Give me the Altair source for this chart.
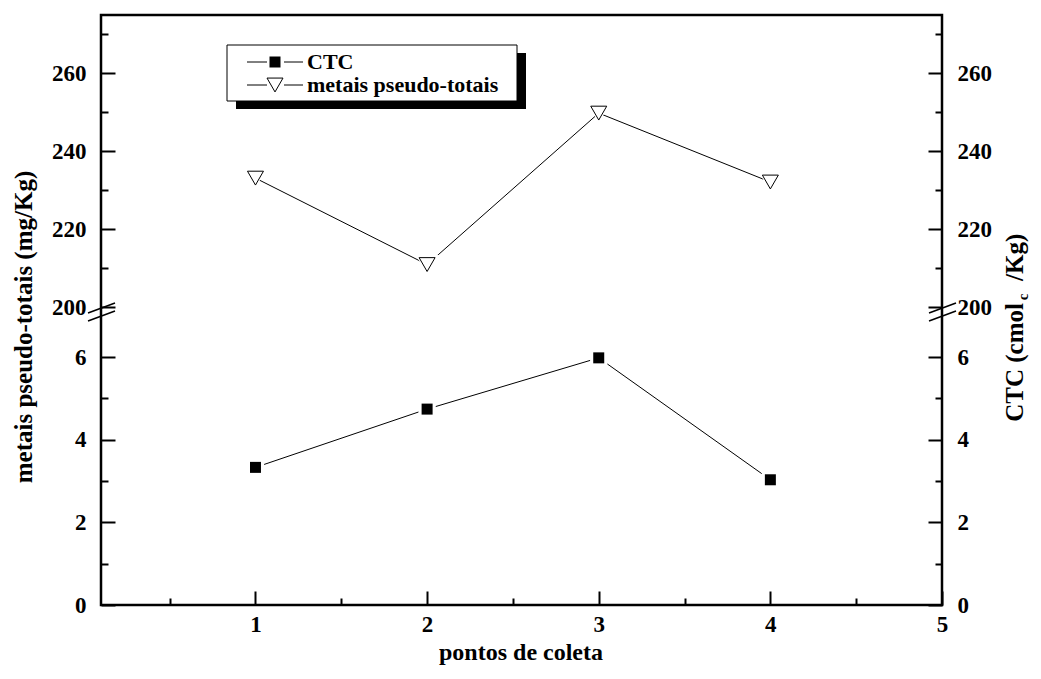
import altair as alt
import pandas as pd

# ---- data ----
pontos = [1, 2, 3, 4]
ctc = [3.33, 4.74, 5.98, 3.03]
metais = [233.1, 210.9, 249.8, 232.1]
series_names = ["CTC", "metais pseudo-totais"]

x_major = [1, 2, 3, 4, 5]
x_minor = [0.5, 1.5, 2.5, 3.5, 4.5]
y_major = [0, 2, 4, 6, 200, 220, 240, 260]
y_minor = [1, 3, 5, 210, 230, 250, 270]

x_title = "pontos de coleta"
y_left_title = "metais pseudo-totais (mg/Kg)"
y_right_parts = ["CTC (cmol", "c", "/Kg)"]

W, H = 841, 590
FONT = "Liberation Serif"

df_ctc = pd.DataFrame({"ponto": pontos, "valor": ctc, "serie": series_names[0]})
df_met = pd.DataFrame({"ponto": pontos, "valor": metais, "serie": series_names[1]})
df_all = pd.concat([df_ctc, df_met], ignore_index=True)
one = pd.DataFrame({"k": [0]})

xscale = alt.Scale(domain=[0.1, 5], nice=False, zero=False)
# broken axis: lower segment 0..7, upper segment 200..275
yscale = alt.Scale(domain=[0, 7, 200, 275], range=[H, 300.7, 292, 0], nice=False, zero=False)


def X(axis=None):
    return alt.X("ponto:Q", scale=xscale, axis=axis)


def Y(axis=None):
    return alt.Y("valor:Q", scale=yscale, axis=axis)


common = dict(domain=False, grid=False, title=None, tickColor="black", tickWidth=2,
              labelFont=FONT, labelFontWeight="bold", labelFontSize=23, labelColor="black",
              labelOverlap=False, labelFlush=False)

ax_left = alt.Axis(orient="left", values=y_major, offset=-14, tickSize=14, labelPadding=15, **common)
ax_left_m = alt.Axis(orient="left", values=y_minor, offset=-7, tickSize=7, labels=False, **common)
ax_right = alt.Axis(orient="right", values=y_major, offset=-14, tickSize=14, labelPadding=15, **common)
ax_right_m = alt.Axis(orient="right", values=y_minor, offset=-7, tickSize=7, labels=False, **common)
ax_bot = alt.Axis(orient="bottom", values=x_major, offset=-14, tickSize=14, labelPadding=8, **common)
ax_bot_m = alt.Axis(orient="bottom", values=x_minor, offset=-7, tickSize=7, labels=False, **common)


def axis_layer(xa, ya):
    return alt.Chart(df_all).mark_point(opacity=0).encode(x=X(xa), y=Y(ya))


axes_layers = [
    axis_layer(ax_bot, ax_left),
    axis_layer(ax_bot_m, ax_left_m),
    axis_layer(None, ax_right),
    axis_layer(None, ax_right_m),
]

lines = alt.Chart(df_all).mark_line(color="black", strokeWidth=1).encode(
    x=X(), y=Y(), detail="serie:N")

halo_sq = alt.Chart(df_ctc).mark_point(shape="square", filled=True, color="white", opacity=1, size=300).encode(x=X(), y=Y())
halo_tr = alt.Chart(df_met).mark_point(shape="triangle-down", filled=True, color="white", opacity=1, size=520).encode(x=X(), y=Y())
pts_sq = alt.Chart(df_ctc).mark_point(shape="square", filled=True, color="black", opacity=1, size=121).encode(x=X(), y=Y())
pts_tr = alt.Chart(df_met).mark_point(shape="triangle-down", filled=True, fill="white", stroke="black",
                                      strokeWidth=1, opacity=1, size=256).encode(x=X(), y=Y())

# ---- axis break marks ----
def brk(x1, y1, x2, y2):
    return alt.Chart(one).mark_rule(color="black", strokeWidth=1.5).encode(
        x=alt.value(x1), y=alt.value(y1), x2=alt.value(x2), y2=alt.value(y2))

breaks = [
    brk(-13, 298, 14, 288), brk(-13, 306, 14, 296),
    brk(828, 298, 855, 288), brk(828, 306, 855, 296),
]

# ---- legend ----
shadow = alt.Chart(one).mark_rect(color="black").encode(
    x=alt.value(135), x2=alt.value(425), y=alt.value(38), y2=alt.value(94))
box = alt.Chart(one).mark_rect(fill="white", stroke="black", strokeWidth=1).encode(
    x=alt.value(126), x2=alt.value(416), y=alt.value(30), y2=alt.value(86))
leg_rules = []
for yy in (47, 70):
    leg_rules.append(alt.Chart(one).mark_rule(color="black", strokeWidth=1).encode(
        x=alt.value(146), x2=alt.value(166), y=alt.value(yy)))
    leg_rules.append(alt.Chart(one).mark_rule(color="black", strokeWidth=1).encode(
        x=alt.value(183), x2=alt.value(202), y=alt.value(yy)))
leg_sq = alt.Chart(one).mark_point(shape="square", filled=True, color="black", opacity=1, size=121).encode(
    x=alt.value(174), y=alt.value(47))
leg_tr = alt.Chart(one).mark_point(shape="triangle-down", filled=True, fill="white", stroke="black",
                                   strokeWidth=1, opacity=1, size=256).encode(x=alt.value(174), y=alt.value(70))
leg_text = [
    alt.Chart(one).mark_text(text=series_names[0], font=FONT, fontWeight="bold", fontSize=22,
                             align="left", baseline="middle", color="black").encode(x=alt.value(206), y=alt.value(47)),
    alt.Chart(one).mark_text(text=series_names[1], font=FONT, fontWeight="bold", fontSize=22,
                             align="left", baseline="middle", color="black").encode(x=alt.value(206), y=alt.value(70)),
]

# ---- titles ----
tx = alt.Chart(one).mark_text(text=x_title, font=FONT, fontWeight="bold", fontSize=24,
                              align="center", baseline="middle", color="black").encode(
    x=alt.value(420), y=alt.value(638))
tyl = alt.Chart(one).mark_text(text=y_left_title, font=FONT, fontWeight="bold", fontSize=25, angle=270,
                               align="center", baseline="middle", color="black").encode(
    x=alt.value(-77), y=alt.value(312))
tyr_a = alt.Chart(one).mark_text(text=y_right_parts[0], font=FONT, fontWeight="bold", fontSize=25, angle=270,
                                 align="right", baseline="middle", color="black").encode(
    x=alt.value(914), y=alt.value(288))
tyr_b = alt.Chart(one).mark_text(text=y_right_parts[1], font=FONT, fontWeight="bold", fontSize=15, angle=270,
                                 align="center", baseline="middle", color="black").encode(
    x=alt.value(922), y=alt.value(282))
tyr_c = alt.Chart(one).mark_text(text=y_right_parts[2], font=FONT, fontWeight="bold", fontSize=25, angle=270,
                                 align="left", baseline="middle", color="black").encode(
    x=alt.value(914), y=alt.value(266))

chart = alt.layer(
    *axes_layers, lines, halo_sq, halo_tr, pts_sq, pts_tr, *breaks,
    shadow, box, *leg_rules, leg_sq, leg_tr, *leg_text,
    tx, tyl, tyr_a, tyr_b, tyr_c,
).resolve_axis(x="independent", y="independent").properties(
    width=W, height=H,
    autosize=alt.AutoSizeParams(type="none"),
    padding={"left": 93, "top": 7, "right": 91, "bottom": 61},
    background="white",
).configure_view(stroke="black", strokeWidth=2.5)

chart.save("out.html", embed_options={"renderer": "svg", "actions": False})
